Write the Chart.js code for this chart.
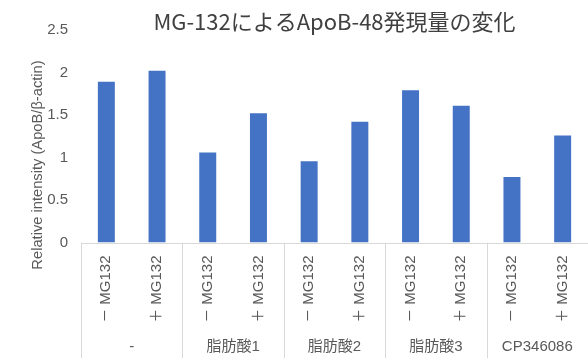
<!DOCTYPE html>
<html>
<head>
<meta charset="utf-8">
<script src="https://cdn.jsdelivr.net/npm/chart.js@4"></script>
<style>
  html, body { margin: 0; padding: 0; background: #fff; }
  #wrap { width: 588px; height: 358px; }
</style>
</head>
<body>
<div id="wrap"><canvas id="chart" width="588" height="358"></canvas></div>
<script>
// data
const treatments = ['－ MG132', '＋ MG132', '－ MG132', '＋ MG132', '－ MG132', '＋ MG132', '－ MG132', '＋ MG132', '－ MG132', '＋ MG132'];
const groups = ['-', '脂肪酸1', '脂肪酸2', '脂肪酸3', 'CP346086'];
const intensity = [1.89, 2.02, 1.06, 1.52, 0.955, 1.42, 1.79, 1.61, 0.77, 1.26];
const yTicks = [0, 0.5, 1, 1.5, 2, 2.5];

const chartTitle = 'MG-132によるApoB-48発現量の変化';
const yTitle = 'Relative intensity (ApoB/β-actin)';

const textColor = '#595959';
const lineColor = '#d9d9d9';
const baseFont = '"Liberation Sans", Arial, "Noto Sans CJK JP", sans-serif';

// title, group separators, axis line and the y axis title
const decorations = {
    id: 'decorations',
    afterDraw(chart) {
        const ctx = chart.ctx;
        const x = chart.scales.x;
        const area = chart.chartArea;
        const step = (x.right - x.left) / treatments.length;
        ctx.save();
        ctx.strokeStyle = lineColor;
        ctx.lineWidth = 1;
        ctx.beginPath();
        ctx.moveTo(x.left, Math.round(area.bottom) + 0.5);
        ctx.lineTo(x.right, Math.round(area.bottom) + 0.5);
        for (let i = 0; i <= treatments.length; i += 2) {
            const px = Math.round(x.left + i * step) + 0.5;
            ctx.moveTo(px, area.bottom);
            ctx.lineTo(px, chart.height);
        }
        ctx.stroke();

        ctx.fillStyle = '#404040';
        ctx.font = '22px "Noto Sans CJK JP", sans-serif';
        ctx.textAlign = 'center';
        ctx.textBaseline = 'middle';
        ctx.fillText(chartTitle, (area.left + area.right) / 2, 22);

        ctx.translate(38, 165);
        ctx.rotate(-Math.PI / 2);
        ctx.fillStyle = textColor;
        ctx.font = '14.7px ' + baseFont;
        ctx.fillText(yTitle, 0, 0);
        ctx.restore();
    }
};

new Chart(document.getElementById('chart'), {
    type: 'bar',
    data: {
        labels: treatments,
        datasets: [{
            data: intensity,
            backgroundColor: '#4472C4',
            borderWidth: 0,
            barPercentage: 0.335,
            categoryPercentage: 1
        }]
    },
    options: {
        responsive: false,
        animation: false,
        layout: { padding: { left: 0, right: 0, top: 30, bottom: 0 } },
        plugins: {
            legend: { display: false },
            tooltip: { enabled: false },
            title: { display: false }
        },
        scales: {
            x: {
                position: 'bottom',
                weight: 0,
                grid: { display: false },
                border: { display: false },
                ticks: {
                    autoSkip: false,
                    minRotation: 90,
                    maxRotation: 90,
                    padding: 5,
                    color: textColor,
                    font: { size: 15, family: baseFont }
                },
                afterFit: (s) => { s.height = 78; }
            },
            x2: {
                type: 'category',
                labels: groups,
                position: 'bottom',
                weight: 1,
                offset: true,
                grid: { display: false },
                border: { display: false },
                ticks: {
                    padding: 9,
                    color: textColor,
                    font: { size: 15, family: baseFont }
                },
                afterFit: (s) => { s.height = 37.5; }
            },
            y: {
                min: 0,
                max: 2.5,
                grid: { display: false, drawTicks: false },
                border: { display: false },
                afterBuildTicks: (s) => { s.ticks = yTicks.map(v => ({ value: v })); },
                ticks: {
                    padding: 13,
                    color: textColor,
                    font: { size: 15, family: baseFont },
                    callback: (v) => String(v)
                },
                afterFit: (s) => { s.width = 81; }
            }
        }
    },
    plugins: [decorations]
});
</script>
</body>
</html>
